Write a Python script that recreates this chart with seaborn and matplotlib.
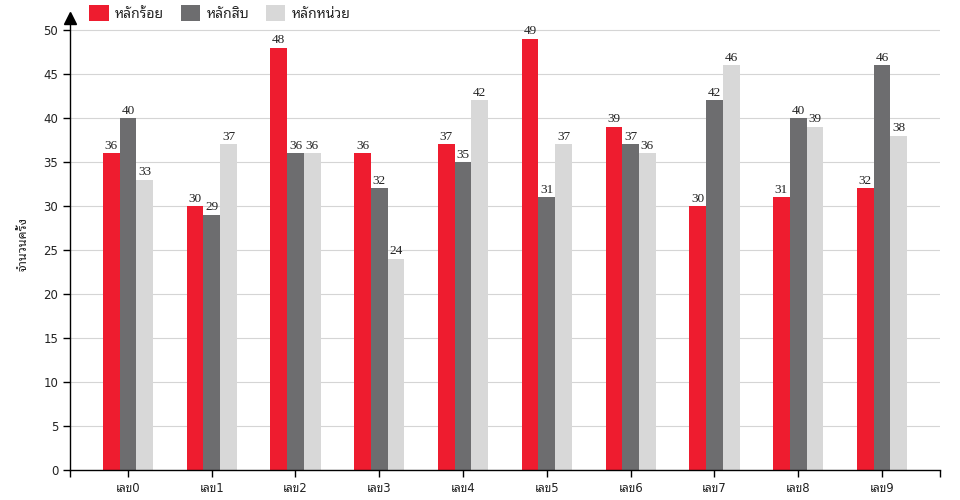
import matplotlib
matplotlib.use('Agg')
import matplotlib.pyplot as plt
import pandas as pd
import seaborn as sns

# ── data ──────────────────────────────────────────────
digits = ['เลข0', 'เลข1', 'เลข2', 'เลข3', 'เลข4', 'เลข5', 'เลข6', 'เลข7', 'เลข8', 'เลข9']
places = ['หลักร้อย', 'หลักสิบ', 'หลักหน่วย']
hundreds = [36, 30, 48, 36, 37, 49, 39, 30, 31, 32]
tens = [40, 29, 36, 32, 35, 31, 37, 42, 40, 46]
units = [33, 37, 36, 24, 42, 37, 36, 46, 39, 38]
colors = ['#EE1C2F', '#6D6D6F', '#D8D8D8']

df = pd.DataFrame({
    'digit': digits * 3,
    'place': [places[0]] * 10 + [places[1]] * 10 + [places[2]] * 10,
    'count': hundreds + tens + units,
})

sns.set_theme(style='white')
plt.rcParams['font.family'] = ['DejaVu Sans', 'Noto Sans Thai Looped']

fig = plt.figure(figsize=(9.6, 5), dpi=100)
ax = fig.add_axes([0.073, 0.06, 0.906, 0.904])

sns.barplot(data=df, x='digit', y='count', hue='place', order=digits,
            hue_order=places, palette=colors, width=0.6, saturation=1,
            linewidth=0, ax=ax)

for cont in ax.containers:
    ax.bar_label(cont, padding=1, fontsize=9.5, color='#222222',
                 family='Liberation Serif')

top = 50 * 452 / 440
ax.set_ylim(0, top)
ax.set_xlim(-0.69, 9.69)
ax.set_yticks(range(0, 51, 5))
for v in range(5, 51, 5):
    ax.axhline(v, color='#D5D5D5', linewidth=0.8, zorder=0)

for s in ['top', 'right']:
    ax.spines[s].set_visible(False)
for s in ['left', 'bottom']:
    ax.spines[s].set_color('black')
    ax.spines[s].set_linewidth(1)
ax.plot([-0.69], [top], marker='^', markersize=9, color='black', clip_on=False)

ax.tick_params(axis='both', which='both', direction='out', length=5, width=1,
               color='black', labelsize=8.5, labelcolor='#222222', left=True, bottom=True)
ax.set_xticks(list(range(10)) + [-0.69, 9.69])
ax.set_xticklabels(digits + ['', ''])
ax.set_xlabel('')
ax.set_ylabel('จำนวนครั้ง', fontsize=9, color='#222222', labelpad=10)

handles, labels = ax.get_legend_handles_labels()
ax.get_legend().remove()
fig.legend(handles, labels, loc='upper left', bbox_to_anchor=(0.093, 0.99), ncol=3,
           frameon=False, handlelength=1.4, handleheight=1.4, handletextpad=0.45,
           columnspacing=1.2, fontsize=10, borderaxespad=0, borderpad=0)

fig.savefig('out.png', dpi=100)
